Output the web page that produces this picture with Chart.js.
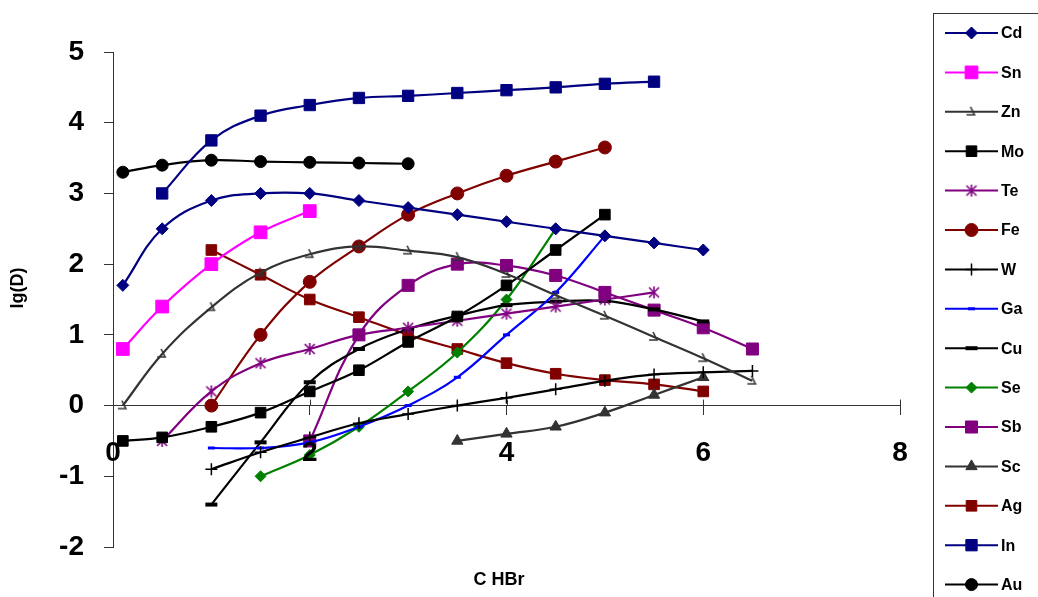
<!DOCTYPE html>
<html lang="en">
<head>
    <meta charset="UTF-8">
    <title>lg(D) vs C HBr</title>
    <script src="https://cdn.jsdelivr.net/npm/chart.js"></script>
    <style>
        body { margin: 0; background: #fff; }
        #chart { display: block; }
    </style>
</head>
<body>
    <canvas id="chart" width="1038" height="597"></canvas>

    <script>
        // HBr concentration grid (x values)
        const conc = [0.1, 0.5, 1, 1.5, 2, 2.5, 3, 3.5, 4, 4.5, 5, 5.5, 6, 6.5];

        // lg(D) per element, null where no measurement
        const cd = [1.7, 2.5, 2.9, 3.0, 3.0, 2.9, 2.8, 2.7, 2.6, 2.5, 2.4, 2.3, 2.2, null];
        const sn = [0.8, 1.4, 2.0, 2.45, 2.75, null, null, null, null, null, null, null, null, null];
        const zn = [0, 0.73, 1.39, 1.88, 2.14, 2.25, 2.19, 2.1, 1.86, 1.56, 1.27, 0.97, 0.67, 0.35];
        const mo = [-0.5, -0.45, -0.3, -0.1, 0.2, 0.5, 0.9, 1.26, 1.7, 2.2, 2.7, null, null, null];
        const te = [null, -0.5, 0.2, 0.6, 0.8, 1.0, 1.1, 1.2, 1.3, 1.4, 1.5, 1.6, null, null];
        const fe = [null, null, 0, 1.0, 1.75, 2.25, 2.7, 3.0, 3.25, 3.45, 3.65, null, null, null];
        const w = [null, null, -0.9, -0.66, -0.45, -0.25, -0.12, 0.0, 0.11, 0.23, 0.35, 0.44, 0.47, 0.49];
        const ga = [null, null, -0.6, -0.6, -0.52, -0.3, 0.0, 0.4, 1.0, 1.6, 2.4, null, null, null];
        const cu = [null, null, -1.4, -0.52, 0.33, 0.8, 1.08, 1.27, 1.42, 1.47, 1.48, 1.36, 1.19, null];
        const se = [null, null, null, -1.0, -0.7, -0.3, 0.2, 0.75, 1.5, 2.5, null, null, null, null];
        const sb = [null, null, null, null, -0.5, 1.0, 1.7, 2.0, 1.98, 1.84, 1.6, 1.35, 1.1, 0.8];
        const sc = [null, null, null, null, null, null, null, -0.5, -0.4, -0.3, -0.1, 0.15, 0.4, null];
        const ag = [null, null, 2.2, 1.85, 1.5, 1.25, 1.0, 0.8, 0.6, 0.45, 0.36, 0.3, 0.2, null];
        const inn = [null, 3.0, 3.75, 4.1, 4.25, 4.35, 4.38, 4.42, 4.46, 4.5, 4.55, 4.58, null, null];
        const au = [3.3, 3.4, 3.47, 3.45, 3.44, 3.43, 3.42, null, null, null, null, null, null, null];

        const xTicks = [0, 2, 4, 6, 8];
        const yTicks = [-2, -1, 0, 1, 2, 3, 4, 5];

        // custom marker for Zn: a small "\_" hook
        function makeHook(color) {
            const c = document.createElement('canvas');
            c.width = 14; c.height = 14;
            const g = c.getContext('2d');
            g.strokeStyle = color;
            g.lineWidth = 1.6;
            g.beginPath();
            g.moveTo(6, 2);
            g.lineTo(10, 10);
            g.lineTo(2, 10);
            g.stroke();
            return c;
        }

        // custom marker for Te: Excel style asterisk (X plus vertical bar)
        function makeAsterisk(color) {
            const c = document.createElement('canvas');
            c.width = 14; c.height = 14;
            const g = c.getContext('2d');
            g.strokeStyle = color;
            g.lineWidth = 1.6;
            g.beginPath();
            g.moveTo(2, 2); g.lineTo(12, 12);
            g.moveTo(12, 2); g.lineTo(2, 12);
            g.moveTo(7, 1); g.lineTo(7, 13);
            g.stroke();
            return c;
        }

        function series(label, values, color, style, radius, borderW) {
            const pts = [];
            values.forEach((v, i) => { if (v !== null) pts.push({x: conc[i], y: v}); });
            return {
                label: label,
                data: pts,
                borderColor: color,
                backgroundColor: color,
                borderWidth: 2.2,
                tension: 0.4,
                pointStyle: style,
                pointRadius: radius,
                pointHoverRadius: radius,
                pointBorderWidth: borderW,
                pointBackgroundColor: color,
                pointBorderColor: color
            };
        }

        const datasets = [
            series('Cd', cd, '#000080', 'rectRot', 6, 1),
            series('Sn', sn, '#FF00FF', 'rect', 9, 1),
            series('Zn', zn, '#333333', makeHook('#333333'), 6, 1),
            series('Mo', mo, '#000000', 'rect', 7.5, 1),
            series('Te', te, '#800080', makeAsterisk('#800080'), 6, 1),
            series('Fe', fe, '#800000', 'circle', 6.5, 1),
            series('W', w, '#000000', 'cross', 6, 1.5),
            series('Ga', ga, '#0000FF', 'line', 3.5, 3),
            series('Cu', cu, '#000000', 'line', 6, 4),
            series('Se', se, '#008000', 'rectRot', 5.5, 1),
            series('Sb', sb, '#800080', 'rect', 8.5, 1),
            series('Sc', sc, '#333333', 'triangle', 6.5, 1),
            series('Ag', ag, '#800000', 'rect', 7.5, 1),
            series('In', inn, '#000080', 'rect', 8, 1),
            series('Au', au, '#000000', 'circle', 6, 1)
        ];

        const labelFont = 'bold 28px "Liberation Sans", Arial, sans-serif';

        // x tick labels, axis titles, crossing x ticks and the boxed legend
        const decor = {
            id: 'decor',
            afterDraw(chart) {
                const ctx = chart.ctx;
                const xs = chart.scales.x, ys = chart.scales.y;
                const y0 = ys.getPixelForValue(0);
                ctx.save();

                // upper half of the x tick marks
                ctx.strokeStyle = '#333';
                ctx.lineWidth = 1;
                xTicks.forEach(t => {
                    const px = Math.round(xs.getPixelForValue(t)) + 0.5;
                    ctx.beginPath();
                    ctx.moveTo(px, y0 - 6);
                    ctx.lineTo(px, y0);
                    ctx.stroke();
                });

                // x tick labels sit just under the zero line, over the series
                ctx.fillStyle = '#000';
                ctx.font = labelFont;
                ctx.textAlign = 'center';
                ctx.textBaseline = 'middle';
                xTicks.forEach(t => {
                    ctx.fillText(String(t), xs.getPixelForValue(t), y0 + 48);
                });

                ctx.font = 'bold 18px "Liberation Sans", Arial, sans-serif';
                ctx.fillText('C HBr', 499, 580);

                ctx.save();
                ctx.translate(18, 288);
                ctx.rotate(-Math.PI / 2);
                ctx.fillText('lg(D)', 0, 0);
                ctx.restore();

                // legend
                ctx.strokeStyle = '#333';
                ctx.lineWidth = 1;
                ctx.strokeRect(933.5, 13.5, 140, 600);
                ctx.font = 'bold 16px "Liberation Sans", Arial, sans-serif';
                ctx.textAlign = 'left';
                chart.data.datasets.forEach((ds, i) => {
                    const ly = 33 + i * 39.4;
                    ctx.strokeStyle = ds.borderColor;
                    ctx.lineWidth = 2;
                    ctx.beginPath();
                    ctx.moveTo(945, ly);
                    ctx.lineTo(998, ly);
                    ctx.stroke();
                    ctx.fillStyle = ds.pointBackgroundColor;
                    ctx.lineWidth = ds.pointBorderWidth;
                    Chart.helpers.drawPoint(ctx, {
                        pointStyle: ds.pointStyle,
                        radius: ds.pointRadius,
                        borderWidth: ds.pointBorderWidth,
                        rotation: 0
                    }, 971.5, ly);
                    ctx.fillStyle = '#000';
                    ctx.fillText(ds.label, 1001, ly + 1);
                });
                ctx.restore();
            }
        };

        const tickFont = { family: '"Liberation Sans", Arial, sans-serif', size: 28, weight: 'bold' };

        new Chart(document.getElementById('chart').getContext('2d'), {
            type: 'line',
            data: { datasets: datasets },
            options: {
                responsive: false,
                animation: false,
                events: [],
                layout: { padding: { top: 52, right: 138, bottom: 50, left: 0 } },
                plugins: {
                    legend: { display: false },
                    tooltip: { enabled: false }
                },
                scales: {
                    x: {
                        type: 'linear',
                        position: { y: 0 },
                        min: 0,
                        max: 8,
                        afterBuildTicks: s => { s.ticks = xTicks.map(v => ({ value: v })); },
                        ticks: { display: false },
                        grid: { drawOnChartArea: false, drawTicks: true, tickLength: 9, color: '#333' },
                        border: { display: true, color: '#333', width: 1 }
                    },
                    y: {
                        type: 'linear',
                        min: -2,
                        max: 5,
                        afterBuildTicks: s => { s.ticks = yTicks.map(v => ({ value: v })); },
                        afterFit: s => { s.width = 113; },
                        ticks: { font: tickFont, color: '#000', padding: 20, autoSkip: false },
                        grid: { drawOnChartArea: false, drawTicks: true, tickLength: 9, color: '#333' },
                        border: { display: true, color: '#333', width: 1 }
                    }
                }
            },
            plugins: [decor]
        });
    </script>
</body>
</html>
